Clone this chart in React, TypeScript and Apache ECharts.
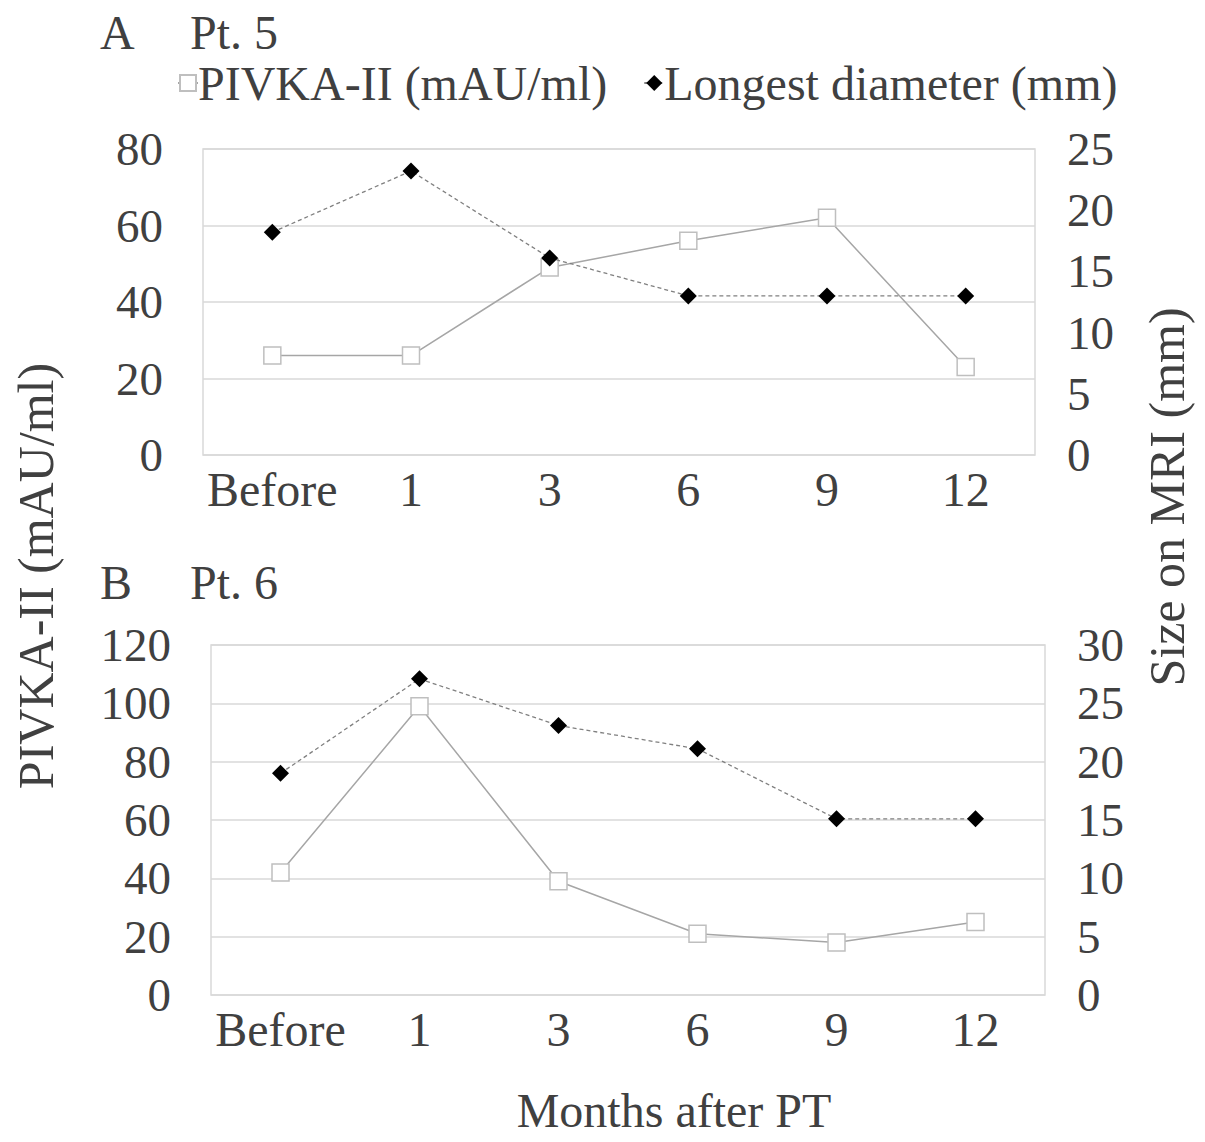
import { useEffect, useRef } from 'react'
import * as echarts from 'echarts'

const months = ['Before', '1', '3', '6', '9', '12']

// Pt. 5
const pivkaA = [26, 26, 49, 56, 62, 23]
const diamA = [18.2, 23.2, 16.1, 13, 13, 13]

// Pt. 6
const pivkaB = [42, 99, 39, 21, 18, 25]
const diamB = [19, 27.1, 23.1, 21.1, 15.1, 15.1]

const FONT = '"Liberation Serif", "Times New Roman", serif'
const TEXT = '#404040'
const GRID = '#d9d9d9'

export default function App() {
  const elRef = useRef<HTMLDivElement>(null)

  useEffect(() => {
    if (!elRef.current) return
    const chart = echarts.init(elRef.current, undefined, { renderer: 'svg' })

    const label = { color: TEXT, fontFamily: FONT, fontSize: 47 }
    const title = { fill: TEXT, fontFamily: FONT, fontSize: 50 }
    const catAxis = (gridIndex: number) => ({
      type: 'category' as const,
      gridIndex,
      data: months,
      axisLine: { show: false },
      axisTick: { show: false },
      axisLabel: { ...label, fontSize: 48, margin: 10, interval: 0 },
    })
    const valAxis = (gridIndex: number, max: number, interval: number, left: boolean) => ({
      type: 'value' as const,
      gridIndex,
      min: 0,
      max,
      interval,
      position: left ? ('left' as const) : ('right' as const),
      axisLine: { show: false },
      axisTick: { show: false },
      splitLine: { show: left, lineStyle: { color: GRID, width: 1.5 } },
      axisLabel: { ...label, margin: left ? 40 : 32 },
    })

    const pivkaStyle = {
      type: 'line' as const,
      name: 'PIVKA-II (mAU/ml)',
      symbol: 'rect',
      symbolSize: 17,
      lineStyle: { color: '#a6a6a6', width: 1.5 },
      itemStyle: { color: '#ffffff', borderColor: '#bfbfbf', borderWidth: 1.5 },
      z: 2,
    }
    const diamStyle = {
      type: 'line' as const,
      name: 'Longest diameter (mm)',
      symbol: 'diamond',
      symbolSize: 17,
      lineStyle: { color: '#808080', width: 1.3, type: [4, 3] as number[] },
      itemStyle: { color: '#000000' },
      z: 3,
    }

    chart.setOption({
      animation: false,
      backgroundColor: '#ffffff',
      legend: {
        top: 54,
        left: 172,
        itemWidth: 20,
        itemHeight: 20,
        itemGap: 36,
        textStyle: { ...label, fontSize: 48, padding: [0, 0, 0, -5] },
        data: ['PIVKA-II (mAU/ml)', 'Longest diameter (mm)'],
      },
      grid: [
        { left: 203, width: 832, top: 149, height: 306, show: true, borderColor: GRID, borderWidth: 1.5, backgroundColor: 'transparent' },
        { left: 211, width: 834, top: 645, height: 350, show: true, borderColor: GRID, borderWidth: 1.5, backgroundColor: 'transparent' },
      ],
      xAxis: [catAxis(0), catAxis(1)],
      yAxis: [
        valAxis(0, 80, 20, true),
        valAxis(0, 25, 5, false),
        valAxis(1, 120, 20, true),
        valAxis(1, 30, 5, false),
      ],
      series: [
        { ...pivkaStyle, xAxisIndex: 0, yAxisIndex: 0, data: pivkaA },
        { ...diamStyle, xAxisIndex: 0, yAxisIndex: 1, data: diamA },
        { ...pivkaStyle, xAxisIndex: 1, yAxisIndex: 2, data: pivkaB },
        { ...diamStyle, xAxisIndex: 1, yAxisIndex: 3, data: diamB },
      ],
      graphic: [
        { type: 'text', left: 100, top: 8, style: { text: 'A', ...title, fontSize: 48 } },
        { type: 'text', left: 190, top: 8, style: { text: 'Pt. 5', ...title, fontSize: 48 } },
        { type: 'text', left: 100, top: 558, style: { text: 'B', ...title, fontSize: 48 } },
        { type: 'text', left: 190, top: 558, style: { text: 'Pt. 6', ...title, fontSize: 48 } },
        {
          type: 'text',
          x: 36,
          y: 576,
          rotation: Math.PI / 2,
          style: { text: 'PIVKA-II (mAU/ml)', ...title, align: 'center', verticalAlign: 'middle' },
        },
        {
          type: 'text',
          x: 1167,
          y: 497,
          rotation: Math.PI / 2,
          style: { text: 'Size on MRI (mm)', ...title, align: 'center', verticalAlign: 'middle' },
        },
        {
          type: 'text',
          x: 674,
          y: 1110,
          style: { text: 'Months after PT', ...title, fontSize: 48, align: 'center', verticalAlign: 'middle' },
        },
      ],
    })

    return () => chart.dispose()
  }, [])

  return (
    <div
      ref={elRef}
      style={{ position: 'absolute', left: 0, top: 0, width: 1205, height: 1142 }}
    />
  )
}
